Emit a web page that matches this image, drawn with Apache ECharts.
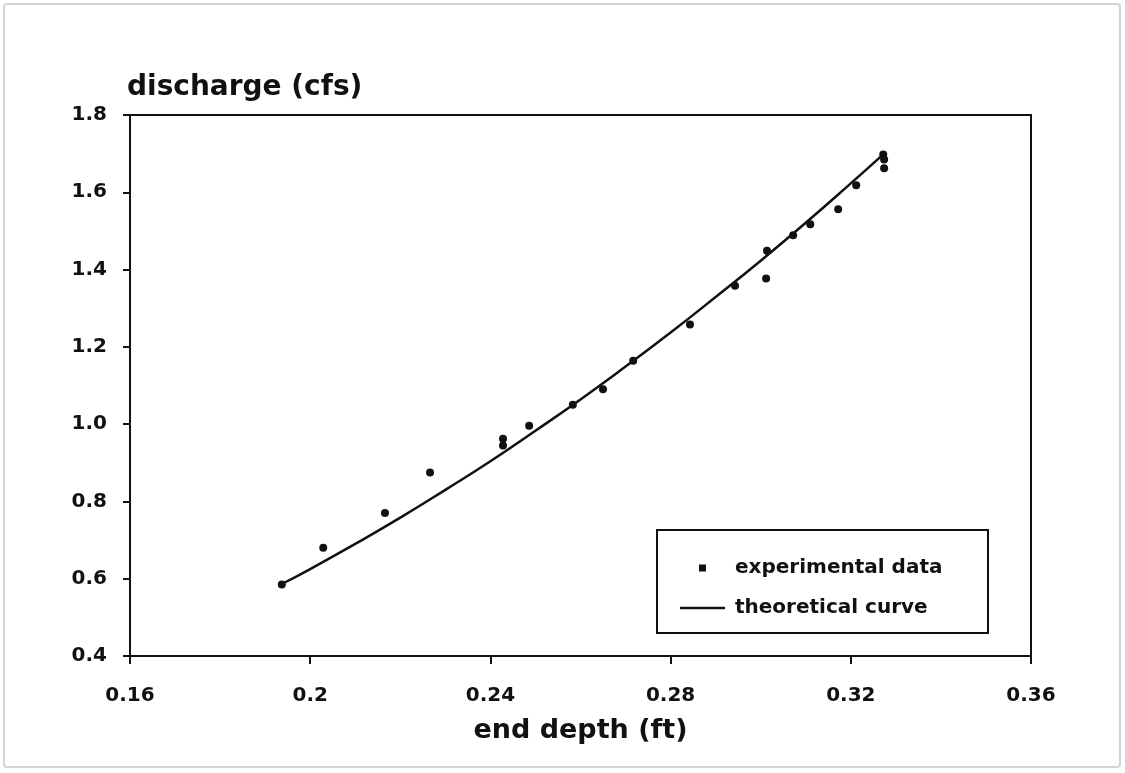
<!DOCTYPE html>
<html>
<head>
<meta charset="utf-8">
<script src="https://cdn.jsdelivr.net/npm/echarts@6/dist/echarts.min.js"></script>
<style>
html,body{margin:0;padding:0;background:#fff;}
#chart{width:1125px;height:773px;}
</style>
</head>
<body>
<div id="chart"></div>
<script>
// experimental data (end depth ft, discharge cfs)
const expDepth = [0.1937, 0.2029, 0.2166, 0.2266, 0.2428, 0.2428, 0.2486, 0.2583, 0.2650, 0.2717, 0.2843, 0.2943, 0.3012, 0.3014, 0.3072, 0.3110, 0.3172, 0.3212, 0.3272, 0.3274, 0.3274];
const expDischarge = [0.585, 0.680, 0.770, 0.875, 0.945, 0.962, 0.996, 1.050, 1.090, 1.164, 1.258, 1.358, 1.377, 1.449, 1.489, 1.517, 1.556, 1.618, 1.698, 1.685, 1.662];
// theoretical curve
const curveDepth = [0.1935, 0.200, 0.210, 0.220, 0.230, 0.240, 0.250, 0.260, 0.270, 0.280, 0.290, 0.300, 0.310, 0.320, 0.3272];
const curveDischarge = [0.585, 0.625, 0.690, 0.758, 0.830, 0.904, 0.983, 1.064, 1.149, 1.237, 1.329, 1.423, 1.521, 1.623, 1.698];
const seriesNames = ['experimental data', 'theoretical curve'];
const xAxisTitle = 'end depth (ft)';
const yAxisTitle = 'discharge (cfs)';

const FONT = 'DejaVu Sans';
const INK = '#111';

const chart = echarts.init(document.getElementById('chart'), null, {renderer: 'canvas'});
chart.setOption({
  backgroundColor: '#fff',
  animation: false,
  grid: {left: 130, right: 94, top: 115, bottom: 117, show: true, borderColor: INK, borderWidth: 2},
  xAxis: {
    type: 'value', min: 0.16, max: 0.36, interval: 0.04,
    name: xAxisTitle, nameLocation: 'middle', nameGap: 61,
    nameTextStyle: {fontFamily: FONT, fontWeight: 'bold', fontSize: 27, color: INK},
    axisLine: {show: true, lineStyle: {color: INK, width: 2}},
    axisTick: {show: true, inside: false, length: 8, lineStyle: {color: INK, width: 2}},
    axisLabel: {margin: 30, fontFamily: FONT, fontWeight: 'bold', fontSize: 20, color: INK,
      formatter: v => String(Math.round(v * 100) / 100)},
    splitLine: {show: false}
  },
  yAxis: {
    type: 'value', min: 0.4, max: 1.8, interval: 0.2,
    name: yAxisTitle, nameLocation: 'end', nameGap: 27,
    nameTextStyle: {fontFamily: FONT, fontWeight: 'bold', fontSize: 28, color: INK, align: 'left', verticalAlign: 'middle', padding: [0, 0, 0, -3]},
    axisLine: {show: true, lineStyle: {color: INK, width: 2}},
    axisTick: {show: true, inside: false, length: 7, lineStyle: {color: INK, width: 2}},
    axisLabel: {margin: 23, fontFamily: FONT, fontWeight: 'bold', fontSize: 20, color: INK,
      formatter: v => v.toFixed(1)},
    splitLine: {show: false}
  },
  legend: {
    orient: 'vertical', left: 675, top: 553, itemWidth: 45, itemHeight: 7, itemGap: 20,
    symbolKeepAspect: true,
    data: [
      {name: seriesNames[0], icon: 'path://M0,0h1v1h-1z'},
      {name: seriesNames[1], icon: 'path://M0,0h45v2.6h-45z'}
    ],
    textStyle: {fontFamily: FONT, fontWeight: 'bold', fontSize: 20, color: INK, padding: [0, 0, 0, 5]}
  },
  graphic: [
    {type: 'rect', shape: {x: 4, y: 4, width: 1116, height: 763, r: 3},
      style: {fill: 'none', stroke: '#d4d4d4', lineWidth: 2}},
    {type: 'rect', shape: {x: 657, y: 530, width: 331, height: 103},
      style: {fill: 'none', stroke: INK, lineWidth: 2}}
  ],
  series: [
    {
      name: seriesNames[0], type: 'scatter', symbol: 'circle', symbolSize: 8,
      itemStyle: {color: INK, opacity: 1},
      data: expDepth.map((x, i) => [x, expDischarge[i]]),
      z: 3
    },
    {
      name: seriesNames[1], type: 'line', symbol: 'none', smooth: true,
      lineStyle: {color: INK, width: 2.5},
      itemStyle: {color: INK},
      data: curveDepth.map((x, i) => [x, curveDischarge[i]]),
      z: 2
    }
  ]
});
</script>
</body>
</html>
